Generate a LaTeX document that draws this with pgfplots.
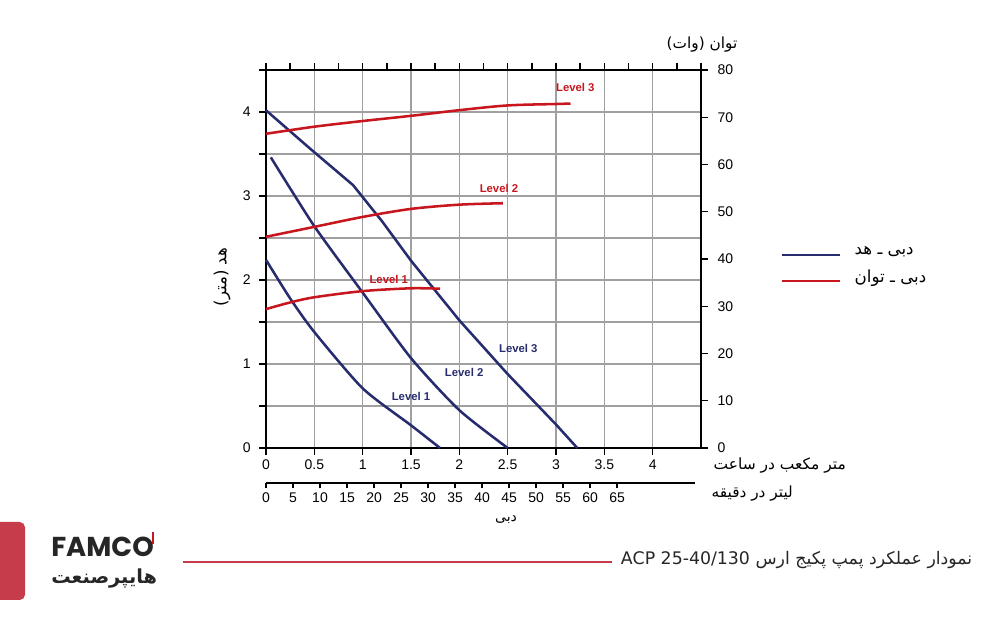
\documentclass[border=0pt]{standalone}
\usepackage{fontspec}
\usepackage{pgfplots}
\pgfplotsset{compat=1.18}
\setmainfont{Liberation Sans}
\newfontfamily\arabicfont[Script=Arabic]{DejaVu Sans}
\newfontfamily\logofont{Poppins}
\TeXXeTstate=1
\definecolor{navy}{HTML}{262C6E}
\definecolor{cred}{HTML}{C8161E}
\definecolor{gridgray}{HTML}{A0A0A0}
\definecolor{brandred}{HTML}{C63C4B}
\newcommand{\fa}[1]{{\arabicfont\beginR #1\endR}}

\pgfplotstableread{
x y
0.00 4.02
0.45 3.57
0.90 3.13
1.20 2.70
1.50 2.23
2.00 1.52
2.50 0.88
3.00 0.28
3.22 0.00
}\headthree
\pgfplotstableread{
x y
0.05 3.46
0.50 2.64
1.00 1.85
1.50 1.07
2.00 0.45
2.50 0.00
}\headtwo
\pgfplotstableread{
x y
0.00 2.24
0.25 1.78
0.50 1.38
1.00 0.71
1.50 0.27
1.80 0.00
}\headone
\pgfplotstableread{
x y
0.00 66.5
0.50 68.0
1.00 69.2
1.50 70.3
2.00 71.5
2.50 72.5
3.00 72.8
3.15 72.9
}\powthree
\pgfplotstableread{
x y
0.00 44.7
0.50 46.8
1.00 48.9
1.50 50.6
2.00 51.5
2.45 51.8
}\powtwo
\pgfplotstableread{
x y
0.00 29.4
0.25 30.8
0.50 31.9
1.00 33.2
1.50 33.8
1.80 33.7
}\powone

\begin{document}
\begin{tikzpicture}
\path[use as bounding box] (0,0) rectangle (750pt,465pt);

% main axis: head
\begin{axis}[
  at={(199.5pt,129pt)}, anchor=south west,
  scale only axis, width=326.25pt, height=283.5pt,
  xmin=0, xmax=4.5, ymin=0, ymax=4.5,
  xtick={0,0.5,...,4}, xticklabels={0,0.5,1,1.5,2,2.5,3,3.5,4},
  ytick={0,0.5,...,4.5}, yticklabels={0,,1,,2,,3,,4,},
  grid=major, grid style={gridgray, line width=1.1pt},
  xtick pos=bottom, ytick pos=left, tick align=outside,
  major tick length=5pt,
  tick style={black, line width=1.1pt},
  axis line style={black, line width=1.5pt},
  ticklabel style={font=\fontsize{10.5}{12}\selectfont},
  yticklabel style={xshift=-3pt},
  /pgf/number format/assume math mode=true,
  clip=false,
]
\addplot[navy, line width=1.9pt] table {\headthree};
\addplot[navy, line width=1.9pt, smooth, tension=0.4] table {\headtwo};
\addplot[navy, line width=1.9pt, smooth, tension=0.4] table {\headone};
\node[text=navy, font=\bfseries\fontsize{8.5}{10}\selectfont] at (axis cs:2.61,1.19) {Level 3};
\node[text=navy, font=\bfseries\fontsize{8.5}{10}\selectfont] at (axis cs:2.05,0.90) {Level 2};
\node[text=navy, font=\bfseries\fontsize{8.5}{10}\selectfont] at (axis cs:1.50,0.61) {Level 1};
\end{axis}

% power axis
\begin{axis}[
  at={(199.5pt,129pt)}, anchor=south west,
  scale only axis, width=326.25pt, height=283.5pt,
  xmin=0, xmax=4.5, ymin=0, ymax=80,
  axis x line*=top, axis y line*=right,
  xtick={0,0.25,...,4.5}, xticklabels={},
  ytick={0,10,...,80},
  tick align=outside, major tick length=5pt,
  tick style={black, line width=1.1pt},
  axis line style={black, line width=1.5pt},
  ticklabel style={font=\fontsize{10.5}{12}\selectfont},
  yticklabel style={xshift=4pt},
  /pgf/number format/assume math mode=true,
  clip=false,
]
\addplot[cred, line width=1.9pt, smooth] table {\powthree};
\addplot[cred, line width=1.9pt, smooth] table {\powtwo};
\addplot[cred, line width=1.9pt, smooth] table {\powone};
\node[text=cred, font=\bfseries\fontsize{8.5}{10}\selectfont] at (axis cs:3.2,76.2) {Level 3};
\node[text=cred, font=\bfseries\fontsize{8.5}{10}\selectfont] at (axis cs:2.41,54.9) {Level 2};
\node[text=cred, font=\bfseries\fontsize{8.5}{10}\selectfont] at (axis cs:1.27,35.7) {Level 1};
\end{axis}

% litres per minute axis
\begin{axis}[
  at={(199.5pt,102.75pt)}, anchor=south west,
  scale only axis, width=321.75pt, height=10pt,
  xmin=0, xmax=79.4, ymin=0, ymax=1,
  axis x line*=bottom, axis y line=none,
  xtick={0,5,...,65}, tick align=outside, major tick length=4pt,
  tick style={black, line width=1.1pt},
  axis line style={black, line width=1.5pt, -},
  ticklabel style={font=\fontsize{10.5}{12}\selectfont},
  /pgf/number format/assume math mode=true,
]
\addplot[draw=none] coordinates {(0,0) (1,1)};
\end{axis}

\begin{scope}[shift={(0,465pt)}, x=0.75pt, y=-0.75pt]
  % axis texts
  \node[font=\arabicfont\fontsize{11.5}{13}\selectfont] at (702,45) {\fa{توان (وات)}};
  \node[font=\arabicfont\fontsize{11.6}{13}\selectfont, anchor=west] at (709,466) {\fa{متر مکعب در ساعت}};
  \node[font=\arabicfont\fontsize{11.5}{13}\selectfont, anchor=west] at (707,494) {\fa{لیتر در دقیقه}};
  \node[font=\arabicfont\fontsize{10.5}{12}\selectfont] at (506,520) {\fa{دبی}};
  \node[font=\arabicfont\fontsize{12.5}{14}\selectfont, rotate=90] at (222,277) {\fa{هد (متر)}};
  % legend
  \draw[navy, line width=1.9pt] (782,255) -- (840,255);
  \draw[cred, line width=1.9pt] (782,281) -- (840,281);
  \node[font=\arabicfont\fontsize{12.5}{14}\selectfont, anchor=west] at (850,252) {\fa{دبی ـ هد}};
  \node[font=\arabicfont\fontsize{12.5}{14}\selectfont, anchor=west] at (850,278) {\fa{دبی ـ توان}};
  % footer
  \fill[brandred, rounded corners=4pt] (-10,522) rectangle (25,600);
  \draw[brandred, line width=1.6pt] (183,562) -- (612,562);
  \node[font=\arabicfont\fontsize{13}{15}\selectfont, text=black!85, anchor=east] at (977,560) {\fa{نمودار عملکرد پمپ پکیج ارس \beginL ACP 25-40/130\endL}};
  % logo
  \node[font=\logofont\bfseries\fontsize{20.5}{21}\selectfont, text=black!85, anchor=west, inner sep=0pt] at (51,547) {FAMCO};
  \draw[cred, line width=2.2pt] (153,532) -- (153,544);
  \node[font=\arabicfont\bfseries\fontsize{14.5}{15}\selectfont, text=black!85, anchor=west, inner sep=0pt] at (51,579) {\fa{هایپرصنعت}};
\end{scope}
\end{tikzpicture}
\end{document}
